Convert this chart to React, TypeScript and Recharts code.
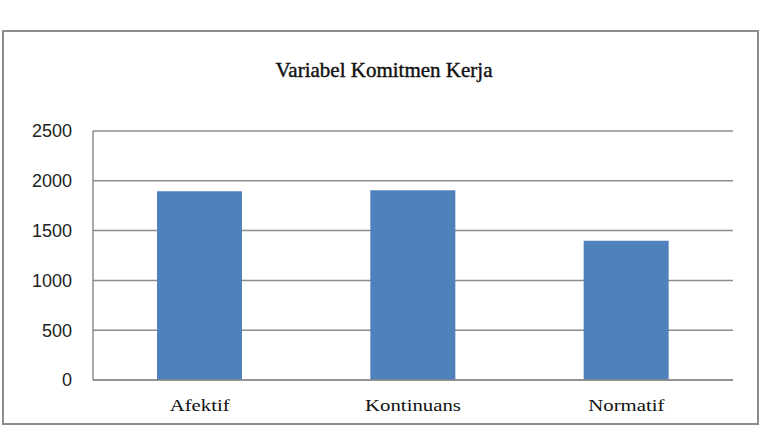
import React from "react";
import { BarChart, Bar, XAxis, YAxis, CartesianGrid } from "recharts";

const categories = ["Afektif", "Kontinuans", "Normatif"];
const values = [1895, 1905, 1398];
const yTicks = [0, 500, 1000, 1500, 2000, 2500];

const data = categories.map((name, i) => ({ name, value: values[i] }));

const serif = "'Liberation Serif', 'Times New Roman', serif";

// category labels in the source look horizontally stretched
const CategoryTick = (props: any) => {
  const { x, y, payload } = props;
  return (
    <text
      transform={`translate(${x},${y}) scale(1.3,1)`}
      textAnchor="middle"
      dy="0.71em"
      fill="#111"
      fontSize={16}
      fontFamily={serif}
    >
      {payload.value}
    </text>
  );
};

const App: React.FC = () => {
  return (
    <div style={{ position: "absolute", left: 0, top: 0, width: 760, height: 435, background: "#fff" }}>
      <div
        style={{
          position: "absolute",
          left: 2,
          top: 30,
          width: 753,
          height: 391,
          border: "2px solid #8c8c8c",
        }}
      />
      <div
        style={{
          position: "absolute",
          left: 0,
          top: 58,
          width: 768,
          textAlign: "center",
          fontFamily: serif,
          fontSize: 21,
          color: "#111",
          WebkitTextStroke: "0.4px #111",
        }}
      >
        Variabel Komitmen Kerja
      </div>
      <div style={{ position: "absolute", left: 0, top: 0 }}>
        <BarChart width={760} height={435} data={data} margin={{ top: 131, right: 27, left: 33, bottom: 25 }}>
          <CartesianGrid vertical={false} stroke="#8c8c8c" strokeWidth={1.5} />
          <XAxis
            dataKey="name"
            height={30}
            tickLine={false}
            tickSize={0}
            tickMargin={20}
            axisLine={{ stroke: "#8c8c8c", strokeWidth: 1.5 }}
            tick={<CategoryTick />}
          />
          <YAxis
            width={60}
            domain={[0, 2500]}
            ticks={yTicks}
            tickLine={false}
            tickSize={0}
            tickMargin={21}
            axisLine={{ stroke: "#8c8c8c", strokeWidth: 1.5 }}
            tick={{ fill: "#222", fontSize: 18, fontFamily: "'Liberation Sans', Arial, sans-serif" }}
          />
          <Bar dataKey="value" fill="#4f81bd" barSize={85} isAnimationActive={false} />
        </BarChart>
      </div>
    </div>
  );
};

export default App;
